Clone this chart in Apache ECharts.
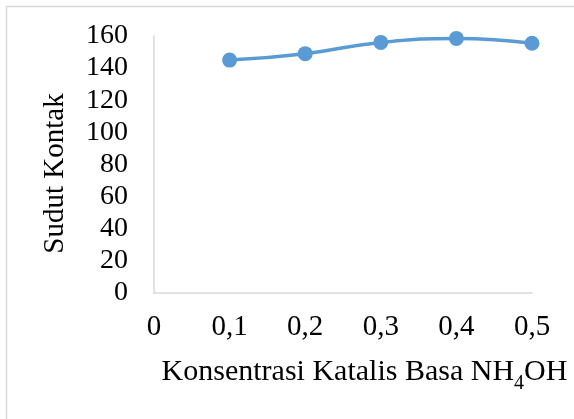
<!DOCTYPE html>
<html>
<head>
<meta charset="utf-8">
<script src="https://cdn.jsdelivr.net/npm/echarts@6/dist/echarts.min.js"></script>
<style>html,body{margin:0;padding:0;background:#fff;}#c{width:574px;height:419px;}</style>
</head>
<body>
<div id="c"></div>
<script>
var concentrations = [0.1, 0.2, 0.3, 0.4, 0.5];
var contactAngles = [145, 149, 156, 158.5, 155.5];
var yTicks = [0, 20, 40, 60, 80, 100, 120, 140, 160];
var xTicks = [0, 0.1, 0.2, 0.3, 0.4, 0.5];
var yTitle = 'Sudut Kontak';
var xTitleMain = 'Konsentrasi Katalis Basa NH';
var xTitleSub = '4';
var xTitleEnd = 'OH';

var font = '"Liberation Serif","Times New Roman",serif';
var chart = echarts.init(document.getElementById('c'));
chart.setOption({
  animation: false,
  backgroundColor: '#fff',
  graphic: [{
    type: 'rect', shape: {x: 6.5, y: 6.5, width: 700, height: 600},
    style: {fill: 'none', stroke: '#d9d9d9', lineWidth: 1.5}, silent: true
  }],
  grid: {left: 154, right: 42, top: 36, bottom: 126, containLabel: false},
  xAxis: {
    type: 'value', min: 0, max: 0.5, interval: 0.1,
    axisLine: {show: true, lineStyle: {color: '#d9d9d9', width: 1.5}},
    axisTick: {show: false},
    splitLine: {show: false},
    axisLabel: {
      color: '#000', fontFamily: font, fontSize: 29, margin: 20,
      formatter: function (v) { return String(Math.round(v * 10) / 10).replace('.', ','); }
    },
    name: '{m|' + xTitleMain + '}{s|' + xTitleSub + '}{m|' + xTitleEnd + '}',
    nameLocation: 'middle', nameGap: 63,
    nameTextStyle: {
      padding: [0, 0, 0, 43],
      rich: {
        m: {fontFamily: font, fontSize: 30, color: '#000', lineHeight: 32},
        s: {fontFamily: font, fontSize: 20, color: '#000', lineHeight: 32, verticalAlign: 'bottom', padding: [0, 0, -6, 0]}
      }
    }
  },
  yAxis: {
    type: 'value', min: 0, max: 160, interval: 20,
    axisLine: {show: true, lineStyle: {color: '#d9d9d9', width: 1.5}},
    axisTick: {show: false},
    splitLine: {show: false},
    axisLabel: {color: '#000', fontFamily: font, fontSize: 28, margin: 26},
    name: yTitle, nameLocation: 'middle', nameGap: 84,
    nameTextStyle: {color: '#000', fontFamily: font, fontSize: 29, padding: [0, 18, 0, 0]}
  },
  series: [{
    type: 'line', smooth: true,
    data: concentrations.map(function (x, i) { return [x, contactAngles[i]]; }),
    symbol: 'circle', symbolSize: 15,
    lineStyle: {color: '#5b9bd5', width: 3.5},
    itemStyle: {color: '#5b9bd5'}
  }]
});
</script>
</body>
</html>
